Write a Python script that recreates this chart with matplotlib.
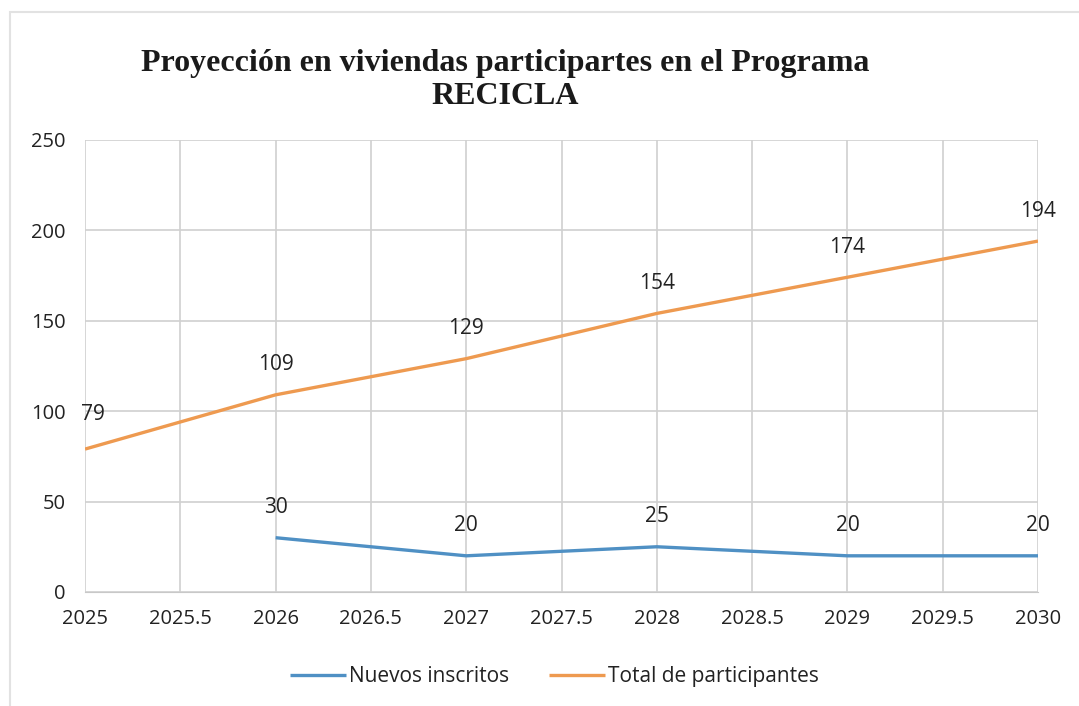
import matplotlib
matplotlib.use("Agg")
import matplotlib.pyplot as plt
from matplotlib.patches import Rectangle

years_new = [2026, 2027, 2028, 2029, 2030]
nuevos = [30, 20, 25, 20, 20]
years_total = [2025, 2026, 2027, 2028, 2029, 2030]
total = [79, 109, 129, 154, 174, 194]
xticks = [2025, 2025.5, 2026, 2026.5, 2027, 2027.5, 2028, 2028.5, 2029, 2029.5, 2030]
yticks = [0, 50, 100, 150, 200, 250]
title = "Proyección en viviendas participartes en el Programa\nRECICLA"

blue = "#4F90C4"
orange = "#EE9A50"

fig = plt.figure(figsize=(10.79, 7.06), dpi=100)
ax = fig.add_axes([0.0788, 0.1615, 0.8832, 0.6405])

ax.plot(years_new, nuevos, color=blue, lw=2.4, label="Nuevos inscritos", solid_capstyle="butt")
ax.plot(years_total, total, color=orange, lw=2.4, label="Total de participantes", solid_capstyle="butt")

ax.set_xlim(2025, 2030)
ax.set_ylim(0, 250)
ax.set_xticks(xticks)
ax.set_xticklabels([f"{v:g}" for v in xticks])
ax.set_yticks(yticks)
ax.grid(True, color="#D0D0D0", lw=1.2)
ax.set_axisbelow(True)
for s in ax.spines.values():
    s.set_visible(False)
ax.spines["bottom"].set_visible(True)
ax.spines["bottom"].set_color("#C8C8C8")
ax.tick_params(length=0, labelsize=14.5, pad=12, colors="#222222")
for lab in ax.get_xticklabels() + ax.get_yticklabels():
    lab.set_fontfamily("Open Sans")
ax.tick_params(axis="y", pad=14)

lbl_font = dict(fontsize=15, color="#222222", family="Open Sans")
for x, y in zip(years_total, total):
    if x == 2025:
        ax.annotate(f"{y}", (x, y), xytext=(6, 17), textcoords="offset points",
                    ha="center", va="bottom", **lbl_font)
    else:
        ax.annotate(f"{y}", (x, y), xytext=(0, 14), textcoords="offset points",
                    ha="center", va="bottom", **lbl_font)
for x, y in zip(years_new, nuevos):
    ax.annotate(f"{y}", (x, y), xytext=(0, 14), textcoords="offset points",
                ha="center", va="bottom", **lbl_font)

fig.text(0.4685, 0.852, title, ha="center", va="baseline", fontsize=23,
         fontweight="bold", family="Liberation Serif", color="#1a1a1a", linespacing=1.2)

leg = fig.legend(loc="center", bbox_to_anchor=(0.514, 0.042), ncol=2, frameon=False,
                 prop={"family": "Open Sans", "size": 15}, handlelength=2.7,
                 columnspacing=1.9, handletextpad=0.15)
for t in leg.get_texts():
    t.set_color("#222222")

fig.patches.append(Rectangle((0.009, -0.01), 1.0, 0.993, transform=fig.transFigure,
                             fill=False, edgecolor="#E2E2E2", lw=1.5))

fig.savefig("out.png", dpi=100)
